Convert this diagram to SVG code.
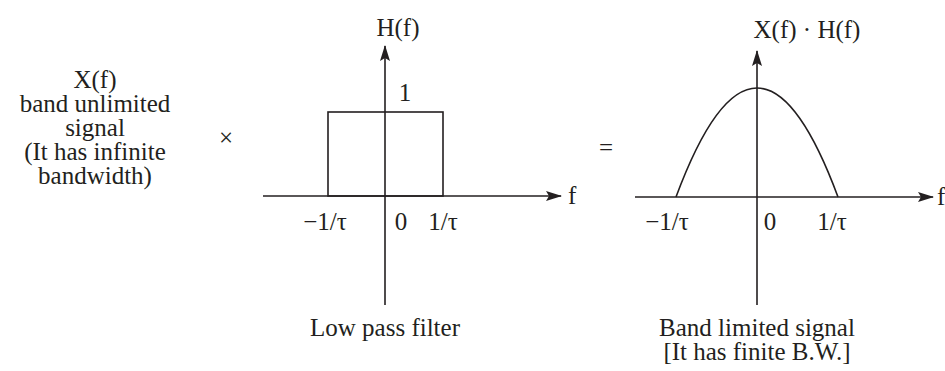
<svg xmlns="http://www.w3.org/2000/svg" width="945" height="371" viewBox="0 0 945 371">
<style>
text{font-family:"Liberation Serif","Times New Roman",serif;fill:#231f20;font-size:25px;text-anchor:middle}
.ax{stroke:#231f20;stroke-width:1.6;fill:none}
.cv{stroke:#231f20;stroke-width:1.6;fill:none}
</style>
<defs>
<marker id="ah" viewBox="0 0 16 10" refX="15" refY="5" markerWidth="16" markerHeight="10" markerUnits="userSpaceOnUse" orient="auto">
<path d="M0,0 L16,5 L0,10 L3,5 Z" fill="#231f20"/>
</marker>
</defs>
<rect width="945" height="371" fill="#fff"/>
<g id="input-label">
<text x="95" y="88">X(f)</text>
<text x="95" y="112">band unlimited</text>
<text x="95" y="136">signal</text>
<text x="95" y="160">(It has infinite</text>
<text x="95" y="184">bandwidth)</text>
</g>
<g id="times"><text x="226" y="146" font-size="20">×</text></g>
<g id="lpf">
<text x="398" y="36">H(f)</text>
<text x="405" y="101">1</text>
<text x="568" y="204" style="text-anchor:start">f</text>
<text x="325" y="230">−1/τ</text>
<text x="401" y="230">0</text>
<text x="443" y="230">1/τ</text>
<text x="385" y="336">Low pass filter</text>
<rect x="328" y="112" width="115" height="84" class="cv"/>
</g>
<g id="equals"><text x="606" y="156" font-size="22">=</text></g>
<g id="output">
<text x="807" y="38">X(f) · H(f)</text>
<text x="937" y="205" style="text-anchor:start">f</text>
<text x="667" y="230">−1/τ</text>
<text x="770" y="230">0</text>
<text x="832" y="230">1/τ</text>
<text x="757" y="336">Band limited signal</text>
<text x="757" y="360">[It has finite B.W.]</text>
<path d="M676,197 Q757,-21 838,197" class="cv"/>
</g>
<g id="connectors">
<line x1="385" y1="305" x2="385" y2="46" class="ax" marker-end="url(#ah)"/>
<line x1="263" y1="196" x2="561" y2="196" class="ax" marker-end="url(#ah)"/>
<line x1="757" y1="305" x2="757" y2="51" class="ax" marker-end="url(#ah)"/>
<line x1="635" y1="197" x2="933" y2="197" class="ax" marker-end="url(#ah)"/>
</g>
</svg>
